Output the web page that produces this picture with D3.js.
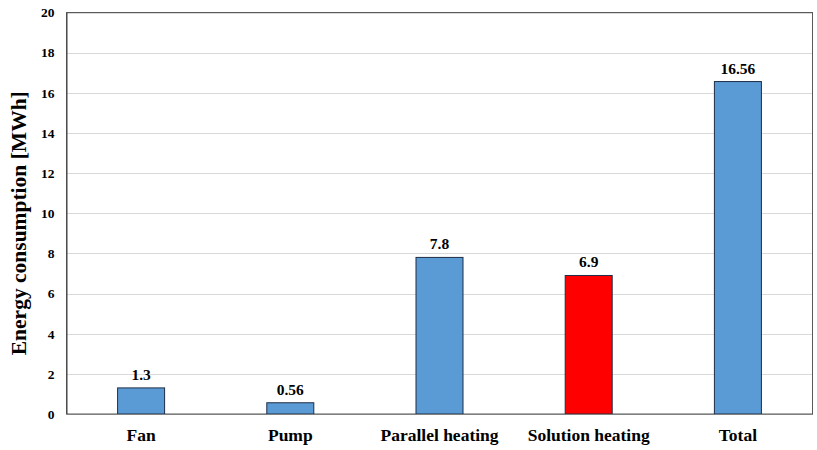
<!DOCTYPE html>
<html>
<head>
<meta charset="utf-8">
<script src="https://cdn.jsdelivr.net/npm/d3@7"></script>
<style>
  html, body { margin: 0; padding: 0; background: #fff; }
  svg { display: block; font-family: "Liberation Serif", "Times New Roman", serif; font-weight: bold; }
</style>
</head>
<body>
<svg id="chart" width="817" height="450"></svg>
<script>
const categories = ["Fan", "Pump", "Parallel heating", "Solution heating", "Total"];
const values = [1.3, 0.56, 7.8, 6.9, 16.56];
const valueLabels = ["1.3", "0.56", "7.8", "6.9", "16.56"];
const barColors = ["#5b9bd5", "#5b9bd5", "#5b9bd5", "#ff0000", "#5b9bd5"];
const yTicks = [0, 2, 4, 6, 8, 10, 12, 14, 16, 18, 20];

const svg = d3.select("#chart");
const m = { left: 66.5, right: 4.5, top: 12.5, bottom: 36 };
const W = 817, H = 450;
const x0 = m.left, x1 = W - m.right, y0 = H - m.bottom, y1 = m.top;

const x = d3.scaleBand().domain(categories).range([x0, x1]).paddingInner(0).paddingOuter(0);
const y = d3.scaleLinear().domain([0, 20]).range([y0, y1]);

// gridlines
svg.append("g").selectAll("line").data(yTicks.filter(d => d > 0)).join("line")
  .attr("x1", x0).attr("x2", x1)
  .attr("y1", d => Math.round(y(d)) + 0.5).attr("y2", d => Math.round(y(d)) + 0.5)
  .attr("stroke", "#d9d9d9").attr("stroke-width", 1);

// plot border
svg.append("rect").attr("x", x0).attr("y", y1).attr("width", x1 - x0).attr("height", y0 - y1)
  .attr("fill", "none").attr("stroke", "#595959").attr("stroke-width", 1);

// bars
const bw = x.bandwidth() * 0.315;
svg.append("g").selectAll("rect").data(categories).join("rect")
  .attr("x", d => x(d) + x.bandwidth() / 2 - bw / 2)
  .attr("y", (d, i) => y(values[i]))
  .attr("width", bw)
  .attr("height", (d, i) => y(0) - y(values[i]))
  .attr("fill", (d, i) => barColors[i])
  .attr("stroke", "#1f2d45").attr("stroke-width", 1);

// value labels
svg.append("g").selectAll("text").data(categories).join("text")
  .attr("x", d => x(d) + x.bandwidth() / 2)
  .attr("y", (d, i) => y(values[i]) - 8)
  .attr("text-anchor", "middle").attr("font-size", 15.5).attr("fill", "#000")
  .text((d, i) => valueLabels[i]);

// y axis
const yAxis = d3.axisLeft(y).tickValues(yTicks).tickSize(0).tickPadding(12).tickFormat(d3.format("d"));
const gy = svg.append("g").attr("transform", `translate(${x0},0)`).call(yAxis);
gy.select(".domain").attr("stroke", "#404040");
gy.selectAll("text").attr("font-size", 13.5).attr("font-family", "Liberation Serif").attr("font-weight", "bold").attr("fill", "#000");

// x axis
const xAxis = d3.axisBottom(x).tickSize(0).tickPadding(15);
const gx = svg.append("g").attr("transform", `translate(0,${y0})`).call(xAxis);
gx.select(".domain").attr("stroke", "#808080");
gx.selectAll("text").attr("font-size", 17.5).attr("font-family", "Liberation Serif").attr("font-weight", "bold").attr("fill", "#000");

// y title
svg.append("text")
  .attr("transform", `translate(26,${(y0 + y1) / 2 + 10}) rotate(-90)`)
  .attr("text-anchor", "middle").attr("font-size", 21.5).attr("fill", "#000")
  .text("Energy consumption [MWh]");
</script>
</body>
</html>
